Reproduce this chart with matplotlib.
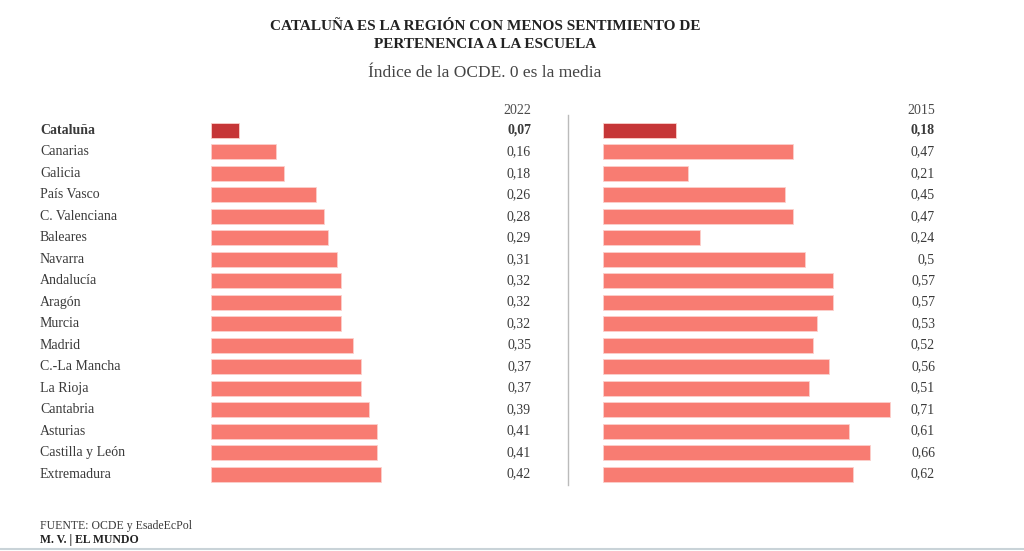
import matplotlib.pyplot as plt
from matplotlib.lines import Line2D

plt.rcParams['font.family'] = ['Liberation Serif', 'DejaVu Serif']

regions = ['Cataluña', 'Canarias', 'Galicia', 'País Vasco', 'C. Valenciana', 'Baleares',
           'Navarra', 'Andalucía', 'Aragón', 'Murcia', 'Madrid', 'C.-La Mancha',
           'La Rioja', 'Cantabria', 'Asturias', 'Castilla y León', 'Extremadura']
vals_2022 = [0.07, 0.16, 0.18, 0.26, 0.28, 0.29, 0.31, 0.32, 0.32, 0.32, 0.35, 0.37,
             0.37, 0.39, 0.41, 0.41, 0.42]
vals_2015 = [0.18, 0.47, 0.21, 0.45, 0.47, 0.24, 0.5, 0.57, 0.57, 0.53, 0.52, 0.56,
             0.51, 0.71, 0.61, 0.66, 0.62]
labels_2022 = ['0,07', '0,16', '0,18', '0,26', '0,28', '0,29', '0,31', '0,32', '0,32',
               '0,32', '0,35', '0,37', '0,37', '0,39', '0,41', '0,41', '0,42']
labels_2015 = ['0,18', '0,47', '0,21', '0,45', '0,47', '0,24', '0,5', '0,57', '0,57',
               '0,53', '0,52', '0,56', '0,51', '0,71', '0,61', '0,66', '0,62']

W, H = 1024, 551
TXT = '#3a3a3a'
HI = '#C63637'
BAR = '#F87C72'

fig = plt.figure(figsize=(W / 100, H / 100), dpi=100)

top_px, bot_px = 98, 487
ymin, ymax = -1.5, 16.6


def make_ax(x0, x1, scale):
    ax = fig.add_axes([x0 / W, 1 - bot_px / H, (x1 - x0) / W, (bot_px - top_px) / H])
    ax.set_xlim(0, (x1 - x0) / scale)
    ax.set_ylim(ymax, ymin)
    ax.axis('off')
    return ax


ax1 = make_ax(211, 531, 405)
ax2 = make_ax(603, 935, 404)

ypos = list(range(len(regions)))
for ax, vals, labs, year in [(ax1, vals_2022, labels_2022, '2022'),
                             (ax2, vals_2015, labels_2015, '2015')]:
    colors = [HI] + [BAR] * (len(vals) - 1)
    ax.barh(ypos, vals, height=0.7, color=colors, edgecolor='#fbd0cc', linewidth=0.6)
    xr = ax.get_xlim()[1]
    for i, lab in enumerate(labs):
        ax.text(xr, i, lab, ha='right', va='center', fontsize=10, color=TXT,
                fontweight='bold' if i == 0 else 'normal')
    ax.text(xr, -0.9, year, ha='right', va='center', fontsize=10, color='#4a4a4a')

# region names
for i, r in enumerate(regions):
    ax1.text((40 - 211) / 405, i, r, ha='left', va='center', fontsize=10, color=TXT,
             fontweight='bold' if i == 0 else 'normal', clip_on=False)

# separator line
fig.add_artist(Line2D([568 / W, 568 / W], [1 - 115 / H, 1 - 485 / H],
                      color='#bbbbbb', lw=1))
# bottom rule
fig.add_artist(Line2D([0, 1], [1 - 548.5 / H, 1 - 548.5 / H], color='#c9d3d8', lw=1.5))

fig.text(485 / W, 1 - 27 / H, 'CATALUÑA ES LA REGIÓN CON MENOS SENTIMIENTO DE',
         ha='center', va='center', fontsize=11, fontweight='bold', color='#222222')
fig.text(485 / W, 1 - 45 / H, 'PERTENENCIA A LA ESCUELA',
         ha='center', va='center', fontsize=11, fontweight='bold', color='#222222')
fig.text(485 / W, 1 - 73 / H, 'Índice de la OCDE. 0 es la media',
         ha='center', va='center', fontsize=12.5, color='#444444')

fig.text(40 / W, 1 - 526 / H, 'FUENTE: OCDE y EsadeEcPol', ha='left', va='center',
         fontsize=8.5, color=TXT)
fig.text(40 / W, 1 - 540 / H, 'M. V. | EL MUNDO', ha='left', va='center',
         fontsize=8.5, fontweight='bold', color='#222222')

fig.savefig('out.png', dpi=100, facecolor='white')
